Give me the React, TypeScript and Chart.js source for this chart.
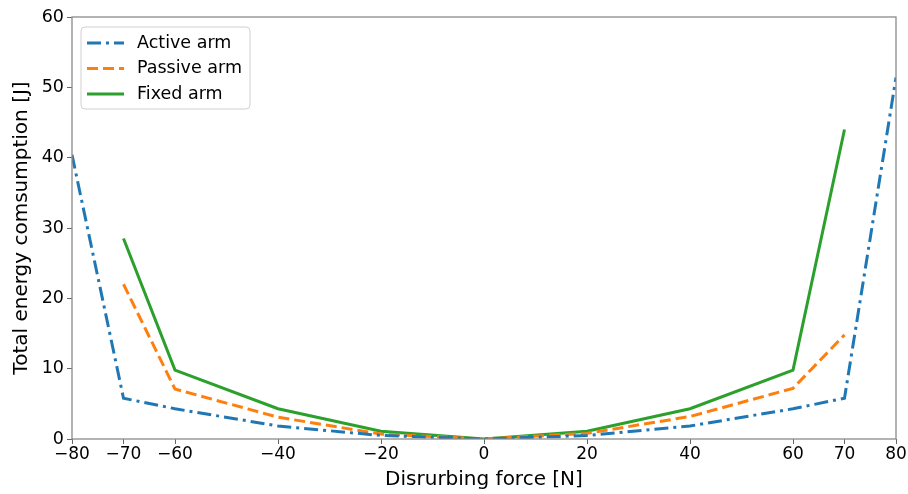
import React, { useEffect, useRef } from "react";
import { Chart, registerables } from "chart.js";

Chart.register(...registerables);

const forces = [-80, -70, -60, -40, -20, 0, 20, 40, 60, 70, 80];
const activeArm = [40.4, 5.8, 4.3, 1.85, 0.5, 0, 0.5, 1.85, 4.3, 5.8, 51.4];
const passiveForces = [-70, -60, -40, -20, 0, 20, 40, 60, 70];
const passiveArm = [22.0, 7.1, 3.1, 0.7, 0, 0.8, 3.2, 7.2, 14.8];
const fixedForces = [-70, -60, -40, -20, 0, 20, 40, 60, 70];
const fixedArm = [28.5, 9.8, 4.3, 1.1, 0, 1.1, 4.3, 9.8, 44.0];
const xTicks = [-80, -70, -60, -40, -20, 0, 20, 40, 60, 70, 80];
const yTicks = [0, 10, 20, 30, 40, 50, 60];

const FONT = "'DejaVu Sans', sans-serif";

const framePlugin = {
  id: "frame",
  afterDraw(chart: any) {
    const { ctx, chartArea } = chart;
    ctx.save();
    ctx.strokeStyle = "#8a8a8a";
    ctx.lineWidth = 1.3;
    ctx.strokeRect(chartArea.left, chartArea.top, chartArea.right - chartArea.left, chartArea.bottom - chartArea.top);
    // legend
    const x0 = chartArea.left + 9, y0 = chartArea.top + 10, w = 169, h = 82;
    ctx.fillStyle = "rgba(255,255,255,0.8)";
    ctx.strokeStyle = "#d0d0d0";
    ctx.lineWidth = 1;
    const r = 4;
    ctx.beginPath();
    ctx.moveTo(x0 + r, y0);
    ctx.lineTo(x0 + w - r, y0);
    ctx.quadraticCurveTo(x0 + w, y0, x0 + w, y0 + r);
    ctx.lineTo(x0 + w, y0 + h - r);
    ctx.quadraticCurveTo(x0 + w, y0 + h, x0 + w - r, y0 + h);
    ctx.lineTo(x0 + r, y0 + h);
    ctx.quadraticCurveTo(x0, y0 + h, x0, y0 + h - r);
    ctx.lineTo(x0, y0 + r);
    ctx.quadraticCurveTo(x0, y0, x0 + r, y0);
    ctx.closePath();
    ctx.fill();
    ctx.stroke();
    chart.data.datasets.forEach((ds: any, i: number) => {
      const cy = y0 + 16 + i * 25.5;
      ctx.strokeStyle = ds.borderColor;
      ctx.lineWidth = ds.borderWidth;
      ctx.setLineDash(ds.borderDash || []);
      ctx.beginPath();
      ctx.moveTo(x0 + 6, cy);
      ctx.lineTo(x0 + 43, cy);
      ctx.stroke();
      ctx.setLineDash([]);
      ctx.fillStyle = "#000";
      ctx.font = `17.5px ${FONT}`;
      ctx.textBaseline = "middle";
      ctx.textAlign = "left";
      ctx.fillText(ds.label, x0 + 56, cy);
    });
    ctx.restore();
  },
};

export default function App() {
  const ref = useRef<HTMLCanvasElement>(null);
  useEffect(() => {
    const toPts = (xs: number[], ys: number[]) => xs.map((x, i) => ({ x, y: ys[i] }));
    const chart = new Chart(ref.current!, {
      type: "line",
      data: {
        datasets: [
          {
            label: "Active arm",
            data: toPts(forces, activeArm),
            borderColor: "#1f77b4",
            borderWidth: 3,
            borderDash: [14, 5, 3, 5],
            pointRadius: 0,
            fill: false,
            tension: 0,
          },
          {
            label: "Passive arm",
            data: toPts(passiveForces, passiveArm),
            borderColor: "#ff7f0e",
            borderWidth: 3,
            borderDash: [11, 5],
            pointRadius: 0,
            fill: false,
            tension: 0,
          },
          {
            label: "Fixed arm",
            data: toPts(fixedForces, fixedArm),
            borderColor: "#2ca02c",
            borderWidth: 3,
            pointRadius: 0,
            fill: false,
            tension: 0,
          },
        ],
      },
      options: {
        animation: false,
        responsive: false,
        layout: { padding: { top: 17, right: 12, left: 0, bottom: 0 } },
        plugins: { legend: { display: false }, tooltip: { enabled: false } },
        scales: {
          x: {
            type: "linear",
            min: -80,
            max: 80,
            afterBuildTicks: (scale: any) => {
              scale.ticks = xTicks.map((v) => ({ value: v }));
            },
            afterFit: (scale: any) => {
              scale.height = 55;
            },
            ticks: {
              autoSkip: false,
              maxRotation: 0,
              color: "#000",
              font: { family: FONT, size: 17 },
              padding: 0,
              callback: (v: any) => String(v).replace("-", "\u2212"),
            },
            grid: { display: true, drawOnChartArea: false, drawTicks: true, tickLength: 5, color: "#666" },
            border: { display: false },
            title: {
              display: true,
              text: "Disrurbing force [N]",
              color: "#000",
              font: { family: FONT, size: 20 },
              padding: { top: 0, bottom: 2 },
            },
          },
          y: {
            type: "linear",
            min: 0,
            max: 60,
            afterBuildTicks: (scale: any) => {
              scale.ticks = yTicks.map((v) => ({ value: v }));
            },
            afterFit: (scale: any) => {
              scale.width = 72;
            },
            ticks: {
              color: "#000",
              font: { family: FONT, size: 17.5 },
              padding: 3,
            },
            grid: { display: true, drawOnChartArea: false, drawTicks: true, tickLength: 5, color: "#666" },
            border: { display: false },
            title: {
              display: true,
              text: "Total energy comsumption [J]",
              color: "#000",
              font: { family: FONT, size: 20 },
              padding: { top: 10, bottom: 0 },
            },
          },
        },
      },
      plugins: [framePlugin],
    } as any);
    return () => chart.destroy();
  }, []);
  return (
    <div style={{ position: "absolute", left: 0, top: 0, width: 908, height: 494, background: "#fff" }}>
      <canvas ref={ref} width={908} height={494} style={{ display: "block" }} />
    </div>
  );
}
